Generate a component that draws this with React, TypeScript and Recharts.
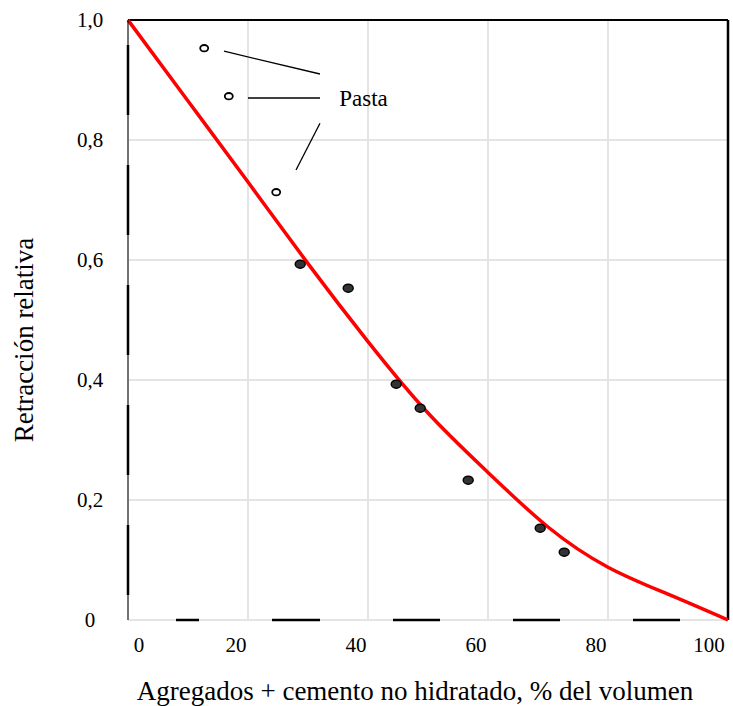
import React from "react";
import {
  ComposedChart, Line, Scatter, XAxis, YAxis, CartesianGrid,
  ReferenceLine, ReferenceDot,
} from "recharts";

// curve
const curveX = [0, 10, 20, 30, 40, 50, 60, 70, 80, 90, 100];
const curveY = [1.0, 0.865, 0.73, 0.594, 0.464, 0.345, 0.246, 0.155, 0.088, 0.043, 0];

// paste (open) and concrete (filled) measurements
const pastaX = [12.7, 16.8, 24.7];
const pastaY = [0.953, 0.873, 0.713];
const solidX = [28.7, 36.7, 44.7, 48.7, 56.7, 68.7, 72.7];
const solidY = [0.593, 0.553, 0.393, 0.353, 0.233, 0.153, 0.113];

const xTicks = [0, 20, 40, 60, 80, 100];
const yTicks = [0, 0.2, 0.4, 0.6, 0.8, 1.0];

// leader lines to the "Pasta" note, in data units
const leaders = [
  [16, 0.948, 32, 0.91],
  [20, 0.87, 32, 0.87],
  [32, 0.828, 28, 0.75],
];

const FONT = "Liberation Serif";

const curve = curveX.map((x, i) => ({ x, y: curveY[i] }));
const pasta = pastaX.map((x, i) => ({ x, y: pastaY[i] }));
const solid = solidX.map((x, i) => ({ x, y: solidY[i] }));

const fmtY = (v: number) => (v === 0 ? "0" : v.toFixed(1).replace(".", ","));

const XTick = (props: any) => {
  const { x, y, payload } = props;
  const dx = payload.value === 0 ? 11 : -12;
  return (
    <text x={x + dx} y={y + 32} textAnchor="middle" fontFamily={FONT} fontSize={21} fill="#000">
      {payload.value}
    </text>
  );
};

const YTick = (props: any) => {
  const { x, y, payload } = props;
  return (
    <text x={x - 38} y={y} dy="0.35em" textAnchor="middle" fontFamily={FONT} fontSize={21} fill="#000">
      {fmtY(payload.value)}
    </text>
  );
};

const OpenDot = (p: any) => (
  <ellipse cx={p.cx} cy={p.cy} rx={4} ry={3.2} fill="#fff" stroke="#000" strokeWidth={1.8} />
);
const FilledDot = (p: any) => (
  <ellipse cx={p.cx} cy={p.cy} rx={5} ry={4} fill="#333" stroke="#000" strokeWidth={1.4} />
);

export default function App() {
  return (
    <div style={{ position: "absolute", left: 0, top: 0, background: "#fff" }}>
      <ComposedChart
        width={733}
        height={706}
        margin={{ top: 20, right: 5, left: 0, bottom: 0 }}
        style={{ fontFamily: FONT }}
      >
        <CartesianGrid stroke="#e4e4e4" strokeWidth={2} />
        <XAxis
          type="number"
          dataKey="x"
          domain={[0, 100]}
          ticks={xTicks}
          height={86}
          tickLine={false}
          tickSize={0}
          tickMargin={0}
          tick={<XTick />}
          axisLine={{ stroke: "#000", strokeWidth: 2.5, strokeDasharray: "0 48 23 73 48 73 47 73 47 73 47 200" }}
          label={({ viewBox }: any) => (
            <text
              x={viewBox.x + viewBox.width / 2 - 13}
              y={viewBox.y + viewBox.height - 6}
              textAnchor="middle"
              fontFamily={FONT}
              fontSize={27}
              fill="#000"
            >
              Agregados + cemento no hidratado, % del volumen
            </text>
          )}
        />
        <YAxis
          type="number"
          dataKey="y"
          domain={[0, 1]}
          ticks={yTicks}
          width={128}
          tickLine={false}
          tickSize={0}
          tickMargin={0}
          tick={<YTick />}
          axisLine={{ stroke: "#000", strokeWidth: 1 }}
          label={({ viewBox }: any) => (
            <text
              x={viewBox.x + 24}
              y={340}
              transform={`rotate(-90 ${viewBox.x + 24} 340)`}
              textAnchor="middle"
              dominantBaseline="central"
              fontFamily={FONT}
              fontSize={27}
              fill="#000"
            >
              Retracción relativa
            </text>
          )}
        />
        <ReferenceLine
          segment={[{ x: 0, y: 1 }, { x: 0, y: 0 }]}
          stroke="#000"
          strokeWidth={2.5}
          strokeDasharray="0 25 70 50 70 50 70 50 70 50 70 50"
        />
        <ReferenceLine y={1} stroke="#000" strokeWidth={2} />
        <ReferenceLine x={100} stroke="#000" strokeWidth={2.5} />
        {leaders.map((l, i) => (
          <ReferenceLine
            key={i}
            segment={[{ x: l[0], y: l[1] }, { x: l[2], y: l[3] }]}
            stroke="#000"
            strokeWidth={1.3}
          />
        ))}
        <ReferenceDot
          x={35.2}
          y={0.87}
          r={0}
          fill="none"
          stroke="none"
          label={(p: any) => (
            <text x={p.viewBox.x} y={p.viewBox.y} dy="0.35em" fontFamily={FONT} fontSize={23} fill="#000">
              Pasta
            </text>
          )}
        />
        <Line
          data={curve}
          dataKey="y"
          type="natural"
          stroke="#ff0000"
          strokeWidth={3.5}
          dot={false}
          activeDot={false}
          isAnimationActive={false}
        />
        <Scatter data={pasta} dataKey="y" shape={<OpenDot />} isAnimationActive={false} />
        <Scatter data={solid} dataKey="y" shape={<FilledDot />} isAnimationActive={false} />
      </ComposedChart>
    </div>
  );
}
